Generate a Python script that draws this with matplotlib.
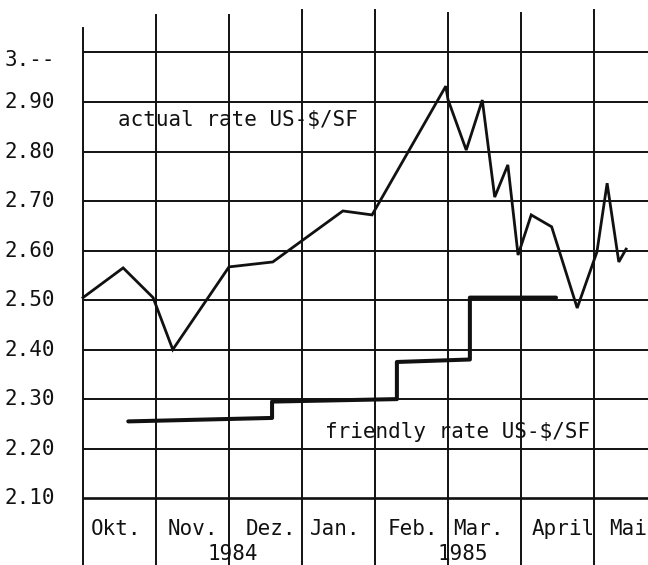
import matplotlib
matplotlib.use("Agg")
import matplotlib.pyplot as plt

# x is measured in months, 0 = start of October 1984
months = ["Okt.", "Nov.", "Dez.", "Jan.", "Feb.", "Mar.", "April", "Mai"]
years = ["1984", "1985"]
rate_ticks = [3.0, 2.9, 2.8, 2.7, 2.6, 2.5, 2.4, 2.3, 2.2, 2.1]
rate_labels = ["3.--", "2.90", "2.80", "2.70", "2.60", "2.50", "2.40", "2.30", "2.20", "2.10"]

actual_month = [0.0, 0.55, 0.96, 1.23, 2.00, 2.60, 3.56, 3.96, 4.97, 5.00, 5.25,
                5.47, 5.64, 5.82, 5.96, 6.14, 6.42, 6.77, 7.04, 7.18, 7.34, 7.44]
actual_rate = [2.505, 2.565, 2.505, 2.40, 2.567, 2.577, 2.68, 2.672, 2.932, 2.905, 2.803,
               2.904, 2.708, 2.773, 2.591, 2.672, 2.648, 2.484, 2.597, 2.736, 2.577, 2.603]

friendly_month = [0.62, 2.59, 2.59, 4.30, 4.30, 5.30, 5.30, 6.48]
friendly_rate = [2.255, 2.262, 2.295, 2.300, 2.375, 2.380, 2.505, 2.505]

# layout
month_label_x = [0.45, 1.51, 2.58, 3.45, 4.52, 5.41, 6.58, 7.47]
year_label_x = [2.05, 5.2]
label_nudge = [-0.015, 0, 0, 0, 0, 0, 0, 0, 0, 0]
vline_top = [3.05, 3.075, 3.075, 3.085, 3.085, 3.08, 3.08, 3.085]
ink = "#111111"
mono = "DejaVu Sans Mono"

fig = plt.figure(figsize=(6.48, 5.65), dpi=100)
ax = fig.add_axes([0, 0, 1, 1])
ax.set_xlim(-1.137, 7.74)
ax.set_ylim(1.965, 3.106)
ax.axis("off")

# grid drawn like the hand-ruled paper
for i, v in enumerate(rate_ticks):
    ax.plot([0, 7.74], [v, v], color=ink, lw=1.9 if v == 2.1 else 1.4,
            solid_capstyle="butt")
    ax.text(-1.07, v + label_nudge[i], rate_labels[i], fontsize=15, family=mono,
            color=ink, ha="left", va="center")
for m in range(len(months)):
    ax.plot([m, m], [1.965, vline_top[m]], color=ink, lw=1.4)

ax.plot(actual_month, actual_rate, color=ink, lw=2.0, solid_joinstyle="miter")
ax.plot(friendly_month, friendly_rate, color=ink, lw=2.9, solid_capstyle="round")

for lbl, x in zip(months, month_label_x):
    ax.text(x, 2.037, lbl, fontsize=15, family=mono, color=ink,
            ha="center", va="center")
for lbl, x in zip(years, year_label_x):
    ax.text(x, 1.988, lbl, fontsize=15, family=mono, color=ink,
            ha="center", va="center")

ax.text(0.48, 2.864, "actual rate US-$/SF", fontsize=15, family=mono, color=ink,
        ha="left", va="center")
ax.text(3.32, 2.233, "friendly rate US-$/SF", fontsize=15, family=mono, color=ink,
        ha="left", va="center")

fig.savefig("out.png", dpi=100, facecolor="white")
